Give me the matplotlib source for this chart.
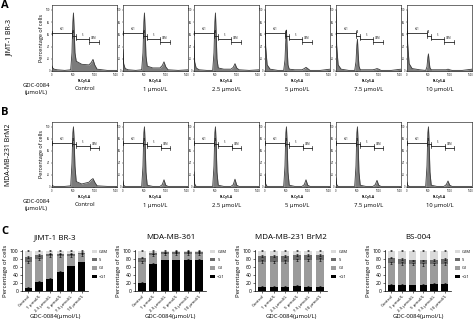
import matplotlib.pyplot as plt
import numpy as np

plt.rcParams['font.family'] = ['Open Sans', 'DejaVu Sans']

W, H = 474, 322

# Flow cytometry histograms (PI-Cy5-A channel vs % of max), sampled at these channels
channels = [0, 15, 50, 120, 300, 440, 470, 490, 505, 520, 540, 570, 700, 870, 925, 965, 1005, 1060, 1300, 1530]

conditions = ['Control', '1 \u03bcmol/L', '2.5 \u03bcmol/L', '5 \u03bcmol/L', '7.5 \u03bcmol/L', '10 \u03bcmol/L']

jimt_hist = [
    [8, 5, 3, 2, 1, 2, 30, 80, 95, 70, 30, 16, 11, 10, 14, 19, 10, 3, 1, 1],
    [35, 12, 4, 2, 1, 2, 30, 80, 95, 70, 25, 8, 5, 5, 9, 15, 7, 2, 1, 2],
    [50, 15, 5, 2, 1, 1, 30, 80, 95, 65, 20, 5, 3, 3, 6, 12, 5, 2, 1, 2],
    [100, 40, 10, 3, 1, 1, 18, 52, 67, 40, 10, 3, 2, 2, 4, 6, 4, 1, 1, 3],
    [100, 42, 10, 3, 1, 1, 15, 42, 52, 30, 8, 2, 2, 2, 3, 4, 3, 1, 1, 3],
    [100, 45, 12, 4, 2, 1, 7, 22, 28, 16, 5, 2, 2, 2, 2, 3, 2, 1, 1, 3],
]

brm2_hist = [
    [3, 2, 1, 1, 1, 2, 40, 90, 100, 80, 35, 9, 5, 8, 12, 14, 8, 2, 1, 1],
    [10, 3, 1, 1, 1, 1, 35, 90, 100, 75, 25, 3, 1, 1, 4, 12, 3, 1, 1, 1],
    [25, 5, 1, 1, 1, 1, 35, 90, 100, 75, 25, 3, 1, 1, 4, 13, 3, 1, 1, 1],
    [22, 5, 1, 1, 1, 1, 35, 90, 100, 75, 25, 3, 1, 1, 4, 12, 3, 1, 1, 1],
    [15, 4, 1, 1, 1, 1, 35, 90, 100, 75, 25, 3, 1, 1, 4, 11, 3, 1, 1, 1],
    [8, 3, 1, 1, 1, 1, 35, 90, 100, 75, 25, 3, 1, 1, 4, 10, 3, 1, 1, 1],
]

# gates: (name, start, end, level)
jimt_gates = [('<G1', 0, 460, 62), ('G1', 460, 560, 57), ('S', 560, 880, 53), ('G2M', 880, 1100, 48)]
brm2_gates = [('<G1', 0, 460, 73), ('G1', 460, 560, 71), ('S', 560, 900, 68), ('G2M', 900, 1100, 65)]

# Stacked cell-cycle fractions (%): <G1, G1, S, G2M
bar_labels = ['Control', '1 \u03bcmol/L', '2.5 \u03bcmol/L', '5 \u03bcmol/L', '7.5 \u03bcmol/L', '10 \u03bcmol/L']
phases = ['<G1', 'G1', 'S', 'G2M']
phase_colors = ['#000000', '#9b9b9b', '#6a6a6a', '#dadada']

jimt_bars = [
    [7, 22, 30, 48, 61, 71],
    [65, 58, 58, 40, 27, 20],
    [12, 10, 5, 5, 5, 4],
    [16, 10, 7, 7, 7, 5],
]
mda361_bars = [
    [21, 67, 76, 76, 78, 77],
    [51, 23, 16, 17, 15, 16],
    [11, 4, 4, 4, 4, 4],
    [17, 6, 4, 3, 3, 3],
]
brm2_bars = [
    [10, 10, 11, 12, 10, 10],
    [63, 62, 62, 65, 67, 68],
    [14, 15, 14, 12, 12, 11],
    [13, 13, 13, 11, 11, 11],
]
bs004_bars = [
    [15, 15, 14, 15, 17, 18],
    [55, 53, 53, 51, 50, 50],
    [13, 12, 9, 10, 10, 11],
    [17, 20, 24, 24, 23, 21],
]
bar_err = [2, 3, 2, 1]

fig = plt.figure(figsize=(W / 100, H / 100), dpi=100)


def box(l, t, r, b):
    return fig.add_axes([l / W, 1 - b / H, (r - l) / W, (b - t) / H])


def ftext(x, y, s, **kw):
    fig.text(x / W, 1 - y / H, s, **kw)


def histogram(ax, heights, gates):
    ax.fill_between(channels, heights, color='#7c7c7c', lw=0)
    ax.plot(channels, heights, color='#3a3a3a', lw=0.6)
    ax.set_xlim(0, 1530)
    ax.set_ylim(0, 108)
    ax.set_xticks([0, 500, 1000, 1500])
    ax.set_xticklabels(['0', '500', '1000', '1500'])
    ax.set_yticks([0, 20, 40, 60, 80, 100])
    ax.tick_params(labelsize=1.8, length=1, width=0.3, pad=0.5)
    for sp in ax.spines.values():
        sp.set_linewidth(0.4)
    for name, x0, x1, lvl in gates:
        ax.plot([x0, x1], [lvl, lvl], color='#222222', lw=0.6)
        ax.plot([x0, x0], [lvl - 3, lvl + 3], color='#222222', lw=0.5)
        ax.plot([x1, x1], [lvl - 3, lvl + 3], color='#222222', lw=0.5)
        ax.text((x0 + x1) / 2, lvl + 3, name, fontsize=1.8, ha='center', va='bottom')
    ax.set_xlabel('PI-Cy5-A', fontsize=2.3, fontweight='bold', labelpad=1.5)


# Panels A and B: histograms
for row, (hists, gates, top, bot, name) in enumerate([
        (jimt_hist, jimt_gates, 5, 71, 'JIMT-1 BR-3'),
        (brm2_hist, brm2_gates, 122, 187, 'MDA-MB-231 BrM2')]):
    for i in range(6):
        l = 52 + 71 * i
        ax = box(l, top, l + 65, bot)
        histogram(ax, hists[i], gates)
        if i == 0:
            ax.set_ylabel('Percentage of cells', fontsize=4, labelpad=1)
        ftext(l + 32.5, bot + 18, conditions[i], fontsize=4.2, ha='center', va='center')
    ftext(36, bot + 18, 'GDC-0084\n(\u03bcmol/L)', fontsize=4.2, ha='center', va='center', linespacing=1.3)
    ftext(9, (top + bot) / 2, name, fontsize=5, rotation=90, ha='center', va='center')

ftext(1, 0, 'A', fontsize=8, fontweight='bold', va='top')
ftext(1, 107, 'B', fontsize=8, fontweight='bold', va='top')
ftext(1, 226, 'C', fontsize=8, fontweight='bold', va='top')

# Panel C: stacked bar charts
x = np.arange(6)
for data, title, (l, r) in [
        (jimt_bars, 'JIMT-1 BR-3', (22, 88)),
        (mda361_bars, 'MDA-MB-361', (135, 206)),
        (brm2_bars, 'MDA-MB-231 BrM2', (255, 327)),
        (bs004_bars, 'BS-004', (385, 451))]:
    ax = box(l, 250, r, 291)
    bottom = np.zeros(6)
    handles = []
    for k in range(4):
        vals = np.array(data[k], dtype=float)
        h = ax.bar(x, vals, 0.7, bottom=bottom, color=phase_colors[k], label=phases[k], lw=0)
        handles.append(h)
        bottom = bottom + vals
        ax.errorbar(x, bottom, yerr=bar_err[k], fmt='none', ecolor='black', elinewidth=0.4, capsize=1, capthick=0.4)
    ax.set_ylim(0, 102)
    ax.set_xlim(-0.6, 5.6)
    ax.set_yticks([0, 20, 40, 60, 80, 100])
    ax.set_xticks(x)
    ax.set_xticklabels(bar_labels, rotation=45, ha='right', rotation_mode='anchor', fontsize=3.2)
    ax.tick_params(axis='y', labelsize=3.6, length=1.5, width=0.4, pad=1)
    ax.tick_params(axis='x', length=1.5, width=0.4, pad=1)
    ax.spines['top'].set_visible(False)
    ax.spines['right'].set_visible(False)
    ax.spines['left'].set_linewidth(0.5)
    ax.spines['bottom'].set_linewidth(0.5)
    ax.set_ylabel('Percentage of cells', fontsize=4.3, labelpad=1.5)
    ax.set_xlabel('GDC-0084(\u03bcmol/L)', fontsize=4.3, va='center')
    ax.xaxis.set_label_coords(0.5, -0.61)
    ax.set_title(title, fontsize=5.8, pad=8)
    ax.legend(handles[::-1], phases[::-1], loc='upper left', bbox_to_anchor=(1.03, 1.05),
              frameon=False, fontsize=3.0, handlelength=1.3, handleheight=0.9,
              handletextpad=0.5, labelspacing=1.0, borderaxespad=0)

fig.savefig('out.png', dpi=100)
